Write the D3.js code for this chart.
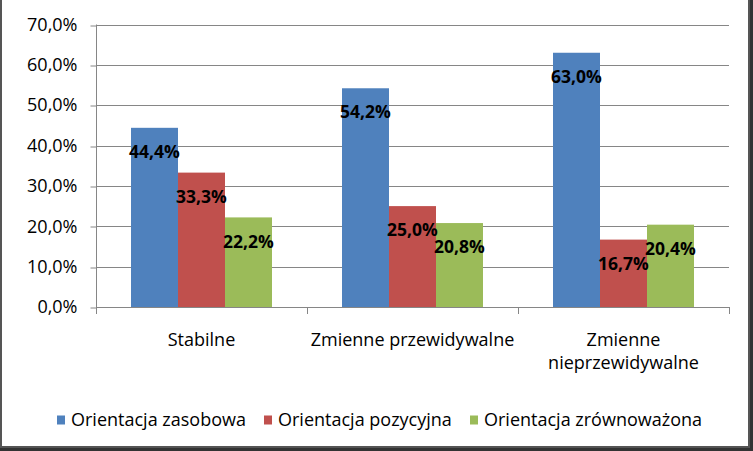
<!DOCTYPE html>
<html>
<head>
<meta charset="utf-8">
<script src="https://cdn.jsdelivr.net/npm/d3@7/dist/d3.min.js"></script>
<style>
  html, body { margin: 0; padding: 0; background: #fff; }
  svg { display: block; }
  text { font-family: "Open Sans", Lato, sans-serif; }
</style>
</head>
<body>
<svg id="chart" width="753" height="451"></svg>
<script>
const categories = [["Stabilne"], ["Zmienne przewidywalne"], ["Zmienne", "nieprzewidywalne"]];
const seriesNames = ["Orientacja zasobowa", "Orientacja pozycyjna", "Orientacja zrównoważona"];
const seriesColors = ["#4F81BD", "#C0504D", "#9BBB59"];
const valuesZasobowa = [44.4, 54.2, 63.0];
const valuesPozycyjna = [33.3, 25.0, 16.7];
const valuesZrownowazona = [22.2, 20.8, 20.4];
const yTicks = [0, 10, 20, 30, 40, 50, 60, 70];

const seriesValues = [valuesZasobowa, valuesPozycyjna, valuesZrownowazona];
const fmt = v => v.toFixed(1).replace(".", ",") + "%";
const FS = 18;

const svg = d3.select("#chart");
const plot = { left: 96, right: 729, top: 24.5, bottom: 307 };

// frame
svg.append("rect").attr("x", 1).attr("y", -2).attr("width", 748).attr("height", 449)
  .attr("fill", "#fff").attr("stroke", "#555").attr("stroke-width", 2);
svg.append("line").attr("x1", 751.5).attr("x2", 751.5).attr("y1", 0).attr("y2", 451)
  .attr("stroke", "#333").attr("stroke-width", 3);
svg.append("line").attr("x1", 0).attr("x2", 753).attr("y1", 449.5).attr("y2", 449.5)
  .attr("stroke", "#333").attr("stroke-width", 3);

const y = d3.scaleLinear().domain([0, 70]).range([plot.bottom, plot.top]);
const x0 = d3.scaleBand().domain(d3.range(categories.length)).range([plot.left, plot.right]).padding(0);
const x1 = d3.scaleBand().domain(d3.range(seriesNames.length))
  .range([35, x0.bandwidth() - 35]).padding(0);

// gridlines
svg.append("g").selectAll("line").data(yTicks.filter(t => t > 0)).join("line")
  .attr("x1", plot.left).attr("x2", plot.right)
  .attr("y1", d => Math.round(y(d)) + 0.5).attr("y2", d => Math.round(y(d)) + 0.5)
  .attr("stroke", "#868686").attr("stroke-width", 1);

// y axis
const yAxis = d3.axisLeft(y).tickValues(yTicks).tickSize(6).tickPadding(13).tickFormat(fmt);
const gy = svg.append("g").attr("transform", `translate(${plot.left + 0.5},0)`).call(yAxis);
gy.select(".domain").attr("stroke", "#868686").attr("d", `M0,${plot.top}V${plot.bottom}`);
gy.selectAll(".tick line").attr("stroke", "#868686")
  .attr("transform", d => `translate(0,${Math.round(y(d)) + 0.5 - y(d)})`);
gy.selectAll(".tick text").attr("font-size", FS).attr("fill", "#000")
  .attr("font-family", "'Open Sans', sans-serif");

// bars
const groups = svg.append("g").selectAll("g").data(categories).join("g")
  .attr("transform", (d, i) => `translate(${x0(i)},0)`);
groups.each(function(c, ci) {
  const g = d3.select(this);
  seriesValues.forEach((vals, si) => {
    g.append("rect")
      .attr("x", x1(si)).attr("width", x1.bandwidth())
      .attr("y", y(vals[ci])).attr("height", plot.bottom - y(vals[ci]))
      .attr("fill", seriesColors[si]);
  });
});
// labels
groups.each(function(c, ci) {
  const g = d3.select(this);
  seriesValues.forEach((vals, si) => {
    g.append("text")
      .attr("x", x1(si) + x1.bandwidth() / 2)
      .attr("y", y(vals[ci]) + 24)
      .attr("dy", "0.35em")
      .attr("text-anchor", "middle")
      .attr("font-weight", "bold").attr("font-size", 17.5).attr("fill", "#000")
      .text(fmt(vals[ci]));
  });
});

// x axis
svg.append("line").attr("x1", plot.left).attr("x2", plot.right)
  .attr("y1", plot.bottom + 0.5).attr("y2", plot.bottom + 0.5).attr("stroke", "#868686");
const xb = d3.range(categories.length + 1).map(i => plot.left + i * x0.bandwidth());
svg.append("g").selectAll("line").data(xb).join("line")
  .attr("x1", d => Math.round(d) + 0.5).attr("x2", d => Math.round(d) + 0.5)
  .attr("y1", plot.bottom).attr("y2", plot.bottom + 7).attr("stroke", "#868686");

svg.append("g").selectAll("text").data(categories).join("text")
  .attr("x", (d, i) => x0(i) + x0.bandwidth() / 2)
  .attr("y", 346)
  .attr("text-anchor", "middle").attr("font-size", FS).attr("fill", "#000")
  .each(function(lines) {
    d3.select(this).selectAll("tspan").data(lines).join("tspan")
      .attr("x", d3.select(this).attr("x"))
      .attr("dy", (d, i) => i === 0 ? 0 : 23)
      .text(d => d);
  });

// legend
const legendX = [57, 264, 470];
const lg = svg.append("g").selectAll("g").data(seriesNames).join("g")
  .attr("transform", (d, i) => `translate(${legendX[i]},420)`);
lg.append("rect").attr("x", 0).attr("y", -4.5).attr("width", 8).attr("height", 9)
  .attr("fill", (d, i) => seriesColors[i]);
lg.append("text").attr("x", 14).attr("y", 0).attr("dy", "0.35em")
  .attr("font-size", FS).attr("fill", "#000").text(d => d);
</script>
</body>
</html>
